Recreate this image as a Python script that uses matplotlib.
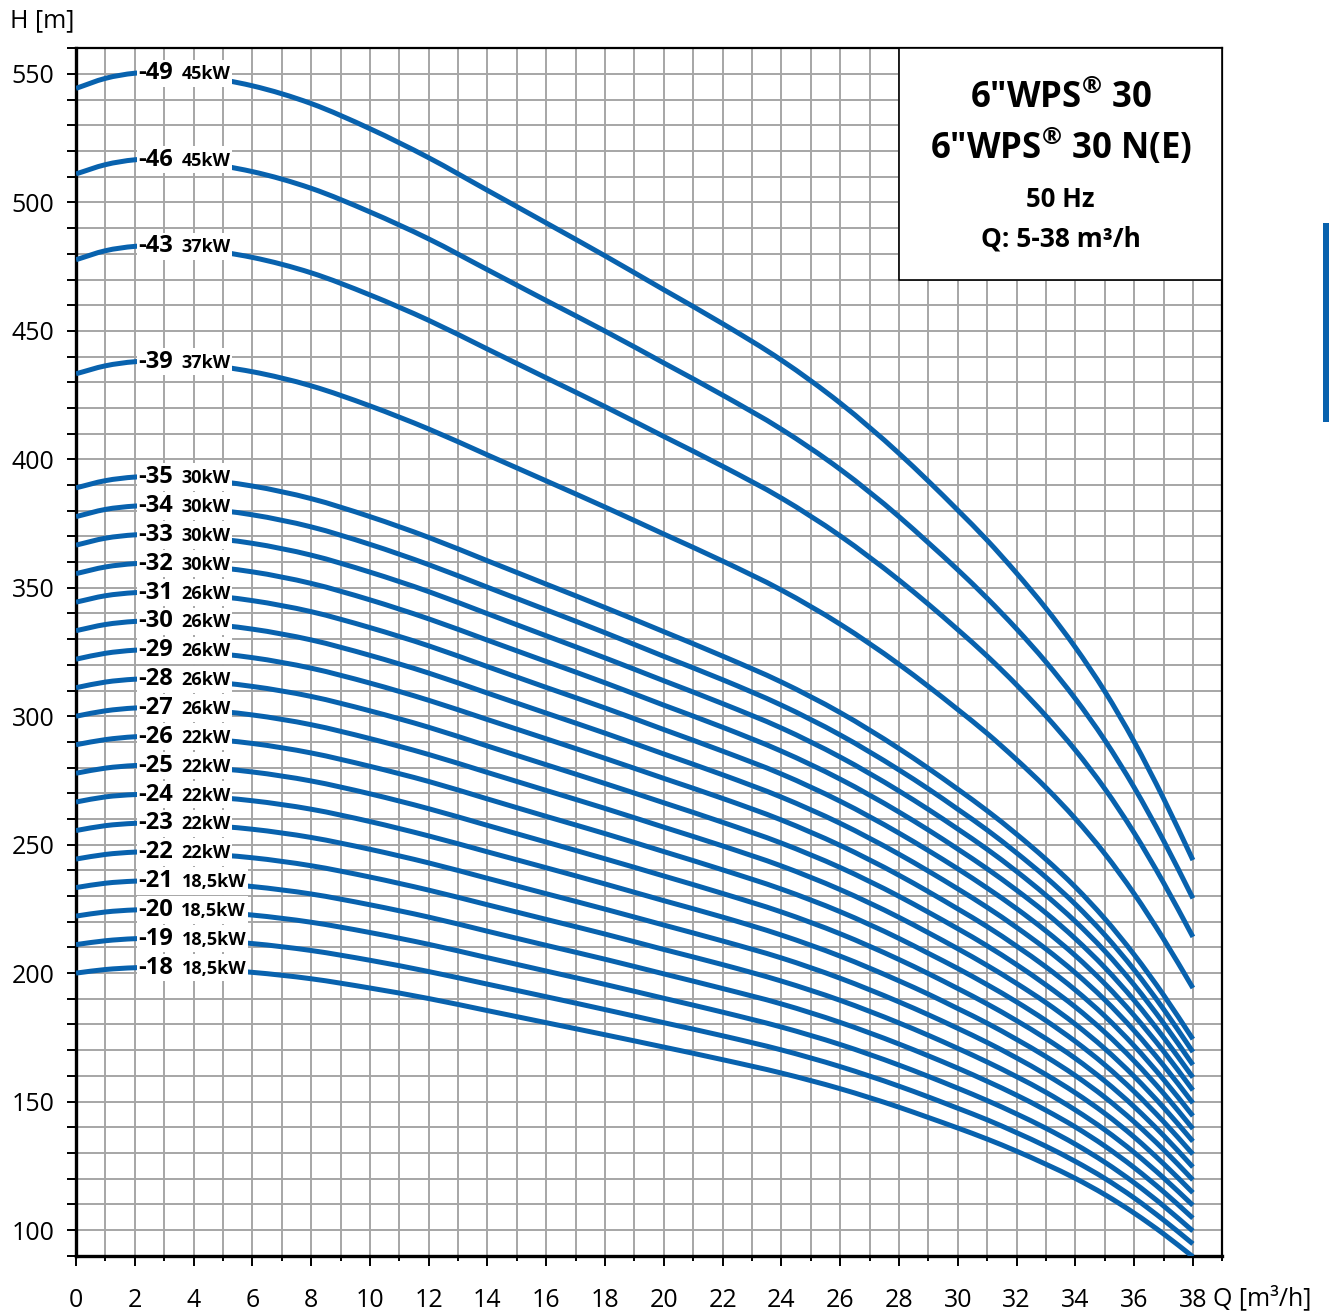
import matplotlib
matplotlib.use("Agg")
import matplotlib.pyplot as plt
from matplotlib.patches import Rectangle, PathPatch
from matplotlib.path import Path
from matplotlib.offsetbox import TextArea, HPacker, AnnotationBbox
from matplotlib.ticker import MultipleLocator

# ---------------- data ----------------
Q = [0, 1, 2, 4, 6, 8, 10, 12, 14, 16, 18, 20, 22, 24, 26, 28, 29, 30, 31, 32, 33, 34, 35, 36, 37, 38]

H18 = [200.0, 201.4, 202.1, 201.8, 200.3, 197.8, 194.2, 190.1, 185.4, 180.7, 176.0, 171.2, 166.3, 161.1, 155.0, 147.8, 143.8, 139.7, 135.4, 130.7, 125.6, 120.1, 113.8, 106.6, 98.5, 89.6]
H19 = [211.1, 212.6, 213.4, 213.0, 211.5, 208.8, 205.0, 200.6, 195.7, 190.8, 185.8, 180.7, 175.6, 170.1, 163.6, 156.0, 151.8, 147.4, 142.9, 137.9, 132.6, 126.7, 120.1, 112.5, 103.9, 94.6]
H20 = [222.2, 223.8, 224.6, 224.2, 222.6, 219.8, 215.8, 211.2, 206.0, 200.8, 195.6, 190.2, 184.8, 179.0, 172.2, 164.2, 159.8, 155.2, 150.4, 145.2, 139.6, 133.4, 126.4, 118.4, 109.4, 99.6]
H21 = [233.3, 235.0, 235.8, 235.4, 233.7, 230.8, 226.6, 221.8, 216.3, 210.8, 205.4, 199.7, 194.0, 188.0, 180.8, 172.4, 167.8, 163.0, 157.9, 152.5, 146.6, 140.1, 132.7, 124.3, 114.9, 104.6]
H22 = [244.4, 246.2, 247.1, 246.6, 244.9, 241.8, 237.4, 232.3, 226.6, 220.9, 215.2, 209.2, 203.3, 196.9, 189.4, 180.6, 175.8, 170.7, 165.4, 159.7, 153.6, 146.7, 139.0, 130.2, 120.3, 109.6]
H23 = [255.5, 257.4, 258.3, 257.8, 256.0, 252.8, 248.2, 242.9, 236.9, 230.9, 224.9, 218.7, 212.5, 205.9, 198.0, 188.8, 183.8, 178.5, 173.0, 167.0, 160.5, 153.4, 145.4, 136.2, 125.8, 114.5]
H24 = [266.6, 268.6, 269.5, 269.0, 267.1, 263.8, 259.0, 253.4, 247.2, 241.0, 234.7, 228.2, 221.8, 214.8, 206.6, 197.0, 191.8, 186.2, 180.5, 174.2, 167.5, 160.1, 151.7, 142.1, 131.3, 119.5]
H25 = [277.8, 279.8, 280.8, 280.3, 278.3, 274.8, 269.8, 264.0, 257.5, 251.0, 244.5, 237.8, 231.0, 223.8, 215.3, 205.3, 199.8, 194.0, 188.0, 181.5, 174.5, 166.8, 158.0, 148.0, 136.8, 124.5]
H26 = [288.9, 290.9, 292.0, 291.5, 289.4, 285.7, 280.5, 274.6, 267.8, 261.0, 254.3, 247.3, 240.2, 232.7, 223.9, 213.5, 207.7, 201.8, 195.5, 188.8, 181.5, 173.4, 164.3, 153.9, 142.2, 129.5]
H27 = [300.0, 302.1, 303.2, 302.7, 300.5, 296.7, 291.3, 285.1, 278.1, 271.1, 264.1, 256.8, 249.5, 241.7, 232.5, 221.7, 215.7, 209.5, 203.0, 196.0, 188.5, 180.1, 170.6, 159.8, 147.7, 134.5]
H28 = [311.1, 313.3, 314.4, 313.9, 311.6, 307.7, 302.1, 295.7, 288.4, 281.1, 273.8, 266.3, 258.7, 250.6, 241.1, 229.9, 223.7, 217.3, 210.6, 203.3, 195.4, 186.8, 177.0, 165.8, 153.2, 139.4]
H29 = [322.2, 324.5, 325.7, 325.1, 322.8, 318.7, 312.9, 306.2, 298.7, 291.2, 283.6, 275.8, 268.0, 259.6, 249.7, 238.1, 231.7, 225.0, 218.1, 210.5, 202.4, 193.4, 183.3, 171.7, 158.6, 144.4]
H30 = [333.3, 335.7, 336.9, 336.3, 333.9, 329.7, 323.7, 316.8, 309.0, 301.2, 293.4, 285.3, 277.2, 268.5, 258.3, 246.3, 239.7, 232.8, 225.6, 217.8, 209.4, 200.1, 189.6, 177.6, 164.1, 149.4]
H31 = [344.4, 346.9, 348.1, 347.5, 345.0, 340.7, 334.5, 327.4, 319.3, 311.2, 303.2, 294.8, 286.4, 277.5, 266.9, 254.5, 247.7, 240.6, 233.1, 225.1, 216.4, 206.8, 195.9, 183.5, 169.6, 154.4]
H32 = [355.5, 358.1, 359.4, 358.7, 356.2, 351.7, 345.3, 337.9, 329.6, 321.3, 313.0, 304.3, 295.7, 286.4, 275.5, 262.7, 255.7, 248.3, 240.6, 232.3, 223.4, 213.4, 202.2, 189.4, 175.0, 159.4]
H33 = [366.6, 369.3, 370.6, 369.9, 367.3, 362.7, 356.1, 348.5, 339.9, 331.3, 322.7, 313.8, 304.9, 295.4, 284.1, 270.9, 263.7, 256.1, 248.2, 239.6, 230.3, 220.1, 208.6, 195.4, 180.5, 164.3]
H34 = [377.7, 380.5, 381.8, 381.1, 378.4, 373.7, 366.9, 359.0, 350.2, 341.4, 332.5, 323.3, 314.2, 304.3, 292.7, 279.1, 271.7, 263.8, 255.7, 246.8, 237.3, 226.8, 214.9, 201.3, 186.0, 169.3]
H35 = [388.9, 391.7, 393.1, 392.4, 389.6, 384.7, 377.7, 369.6, 360.5, 351.4, 342.3, 332.9, 323.4, 313.3, 301.4, 287.4, 279.7, 271.6, 263.2, 254.1, 244.3, 233.5, 221.2, 207.2, 191.5, 174.3]
H39 = [433.3, 436.4, 438.0, 437.2, 434.1, 428.6, 420.8, 411.8, 401.7, 391.6, 381.4, 370.9, 360.4, 349.1, 335.8, 320.2, 311.6, 302.6, 293.3, 283.1, 272.2, 260.1, 246.5, 230.9, 213.3, 194.2]
H43 = [477.7, 481.2, 482.9, 482.0, 478.6, 472.6, 464.0, 454.1, 442.9, 431.7, 420.5, 408.9, 397.3, 384.9, 370.2, 353.0, 343.6, 333.7, 323.4, 312.2, 300.1, 286.8, 271.8, 254.6, 235.2, 214.1]
H46 = [511.1, 514.7, 516.6, 515.7, 512.0, 505.5, 496.3, 485.8, 473.8, 461.8, 449.9, 437.5, 425.0, 411.7, 396.1, 377.7, 367.5, 357.0, 345.9, 334.0, 321.1, 306.8, 290.7, 272.3, 251.6, 229.1]
H49 = [544.4, 548.3, 550.3, 549.3, 545.4, 538.5, 528.7, 517.4, 504.7, 492.0, 479.2, 466.0, 452.8, 438.6, 421.9, 402.3, 391.5, 380.2, 368.5, 355.7, 342.0, 326.8, 309.7, 290.1, 268.0, 244.0]

stages = [18, 19, 20, 21, 22, 23, 24, 25, 26, 27, 28, 29, 30, 31, 32, 33, 34, 35, 39, 43, 46, 49]
heads = [H18, H19, H20, H21, H22, H23, H24, H25, H26, H27, H28, H29, H30, H31, H32, H33, H34, H35, H39, H43, H46, H49]
powers = ["18,5kW", "18,5kW", "18,5kW", "18,5kW", "22kW", "22kW", "22kW", "22kW", "22kW",
          "26kW", "26kW", "26kW", "26kW", "26kW", "30kW", "30kW", "30kW", "30kW",
          "37kW", "37kW", "45kW", "45kW"]

title_lines = ['6"WPS$^{®}$ 30', '6"WPS$^{®}$ 30 N(E)', '50 Hz', 'Q: 5-38 m³/h']
x_ticks = list(range(0, 39, 2))
y_ticks = list(range(100, 551, 50))

# ---------------- style ----------------
FONT = "Open Sans"
plt.rcParams["font.family"] = [FONT, "DejaVu Sans"]
plt.rcParams["mathtext.default"] = "regular"
BLUE = "#0862AE"
GRID = "#a6a6a6"


def smooth_path(xs, ys):
    """Cubic Hermite (Bezier) path through the given points."""
    n = len(xs)
    m = []
    for i in range(n):
        if i == 0:
            m.append((ys[1] - ys[0]) / (xs[1] - xs[0]))
        elif i == n - 1:
            m.append((ys[-1] - ys[-2]) / (xs[-1] - xs[-2]))
        else:
            h0 = xs[i] - xs[i - 1]
            h1 = xs[i + 1] - xs[i]
            d0 = (ys[i] - ys[i - 1]) / h0
            d1 = (ys[i + 1] - ys[i]) / h1
            m.append((d0 * h1 + d1 * h0) / (h0 + h1))
    verts = [(xs[0], ys[0])]
    codes = [Path.MOVETO]
    for i in range(n - 1):
        h = xs[i + 1] - xs[i]
        verts += [(xs[i] + h / 3, ys[i] + m[i] * h / 3),
                  (xs[i + 1] - h / 3, ys[i + 1] - m[i + 1] * h / 3),
                  (xs[i + 1], ys[i + 1])]
        codes += [Path.CURVE4] * 3
    return Path(verts, codes)


W, Hpx = 1329, 1312
fig = plt.figure(figsize=(W / 100, Hpx / 100), dpi=100)
ax = fig.add_axes([76 / W, (Hpx - 1255.7) / Hpx, (1222.3 - 76) / W, (1255.7 - 48.3) / Hpx])

ax.set_xlim(0, 39)
ax.set_ylim(90, 560)

ax.set_xticks(x_ticks)
ax.set_xticklabels([str(v) for v in x_ticks])
ax.xaxis.set_minor_locator(MultipleLocator(1))
ax.set_yticks(y_ticks)
ax.set_yticklabels([str(v) for v in y_ticks])
ax.yaxis.set_minor_locator(MultipleLocator(10))

ax.grid(True, which="both", color=GRID, linewidth=1.4)
ax.set_axisbelow(True)

ax.tick_params(axis="x", which="major", direction="out", length=7, width=1.4, pad=16, labelsize=18)
ax.tick_params(axis="x", which="minor", direction="out", length=3.5, width=1.4)
ax.tick_params(axis="y", which="both", direction="out", length=6.7, width=1.4, pad=9, labelsize=18)

for s in ("left", "bottom"):
    ax.spines[s].set_linewidth(2.4)
for s in ("top", "right"):
    ax.spines[s].set_linewidth(1.6)

# curves
for n, H in zip(stages, heads):
    ax.add_patch(PathPatch(smooth_path(Q, H), fill=False, edgecolor=BLUE, linewidth=3.6,
                           capstyle="butt", joinstyle="round", zorder=3))

# labels
for n, H, kw in zip(stages, heads, powers):
    t1 = TextArea(f"-{n}", textprops=dict(fontsize=17, fontweight="bold", color="black", family=FONT))
    t2 = TextArea(kw, textprops=dict(fontsize=13, fontweight="bold", color="black", family=FONT))
    pk = HPacker(children=[t1, t2], align="baseline", pad=0, sep=6)
    ab = AnnotationBbox(pk, (Q[2] + 0.12, H[2]), xycoords="data", box_alignment=(0, 0.5),
                        frameon=True, pad=0.12,
                        bboxprops=dict(facecolor="white", edgecolor="none"), zorder=5)
    ax.add_artist(ab)

# title box
ax.add_patch(Rectangle((28, 470), 11, 90, facecolor="white", edgecolor="black",
                       linewidth=1.2, zorder=4))
xc = 1060.5 / W
fig.text(xc, 1 - 108.5 / Hpx, title_lines[0], ha="center", va="baseline", fontsize=25,
         fontweight="bold", family=FONT, zorder=6)
fig.text(xc, 1 - 159.5 / Hpx, title_lines[1], ha="center", va="baseline", fontsize=25,
         fontweight="bold", family=FONT, zorder=6)
fig.text(xc, 1 - 207 / Hpx, title_lines[2], ha="center", va="baseline", fontsize=18.5,
         fontweight="bold", family=FONT, zorder=6)
fig.text(xc, 1 - 246.5 / Hpx, title_lines[3], ha="center", va="baseline", fontsize=19,
         fontweight="bold", family=FONT, zorder=6)

# axis titles
fig.text(10 / W, 1 - 27 / Hpx, "H [m]", ha="left", va="baseline", fontsize=18, family=FONT)
fig.text(1213 / W, 1 - 1305 / Hpx, "Q [m³/h]", ha="left", va="baseline", fontsize=18, family=FONT)

# decorative blue bar on the right edge
fig.patches.append(Rectangle((1323 / W, 1 - 422 / Hpx), 8 / W, 199 / Hpx,
                             transform=fig.transFigure, facecolor=BLUE, edgecolor="none"))

fig.savefig("out.png", dpi=100)
